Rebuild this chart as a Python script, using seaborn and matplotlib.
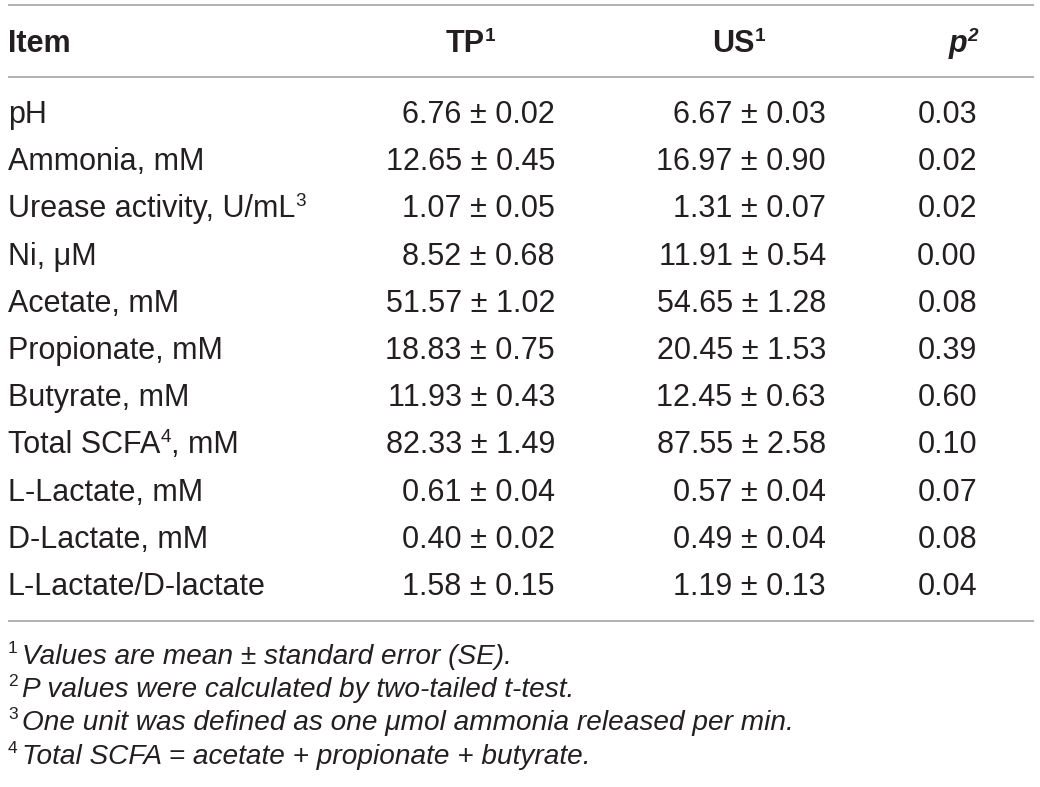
import numpy as np
import pandas as pd
import matplotlib
matplotlib.use('Agg')
import matplotlib.pyplot as plt
import seaborn as sns

# Table values
items = ['pH', 'Ammonia, mM', 'Urease activity, U/mL', 'Ni, \u03bcM', 'Acetate, mM',
         'Propionate, mM', 'Butyrate, mM', 'Total SCFA', 'L-Lactate, mM',
         'D-Lactate, mM', 'L-Lactate/D-lactate']
item_sup = ['', '', '3', '', '', '', '', '4', '', '', '']
item_tail = ['', '', '', '', '', '', '', ', mM', '', '', '']
tp_mean = [6.76, 12.65, 1.07, 8.52, 51.57, 18.83, 11.93, 82.33, 0.61, 0.40, 1.58]
tp_se = [0.02, 0.45, 0.05, 0.68, 1.02, 0.75, 0.43, 1.49, 0.04, 0.02, 0.15]
us_mean = [6.67, 16.97, 1.31, 11.91, 54.65, 20.45, 12.45, 87.55, 0.57, 0.49, 1.19]
us_se = [0.03, 0.90, 0.07, 0.54, 1.28, 1.53, 0.63, 2.58, 0.04, 0.04, 0.13]
p_values = [0.03, 0.02, 0.02, 0.00, 0.08, 0.39, 0.60, 0.10, 0.07, 0.08, 0.04]
footnotes = ['Values are mean \u00b1 standard error (SE).',
             'P values were calculated by two-tailed t-test.',
             'One unit was defined as one \u03bcmol ammonia released per min.',
             'Total SCFA = acetate + propionate + butyrate.']

df = pd.DataFrame({'item': items, 'tp': tp_mean, 'tp_se': tp_se,
                   'us': us_mean, 'us_se': us_se, 'p': p_values})

sns.set_theme(style='white')
plt.rcParams['font.family'] = ['Liberation Sans', 'DejaVu Sans']

ink = '#231f20'
rule = '#9d9d9d'
body = 22

fig = plt.figure(figsize=(10.4, 7.87), dpi=100)
ax = fig.add_axes([0, 0, 1, 1])
ax.set_xlim(0, 1040)
ax.set_ylim(787, 0)
ax.axis('off')
renderer = fig.canvas.get_renderer()


def seg_text(x, y, segments, ha='left', **kw):
    # segments: list of (text, is_sup); laid out left to right, then shifted for alignment
    size = kw.pop('size', body)
    sup_size = kw.pop('sup_size', size * 0.62)
    rise = kw.pop('rise', size * 0.5)
    gap = kw.pop('gap', 0)
    sup_style = kw.pop('sup_style', kw.get('style', 'normal'))
    arts, cur = [], 0.0
    for txt, is_sup in segments:
        if not txt:
            continue
        opts = dict(kw)
        if is_sup:
            opts['style'] = sup_style
        t = ax.text(cur, y - (rise if is_sup else 0), txt, ha='left', va='baseline',
                    fontsize=sup_size if is_sup else size, color=ink, **opts)
        arts.append((t, cur))
        cur += t.get_window_extent(renderer).width + (gap if is_sup else 0)
    shift = {'left': x, 'center': x - cur / 2, 'right': x - cur}[ha]
    for t, off in arts:
        t.set_x(off + shift)


# rules
ax.hlines([5, 77, 621], 8, 1034, color=rule, lw=1.1)

# header
seg_text(8, 52, [('Item', False)], weight='bold')
seg_text(470, 52, [('TP', False), ('1', True)], ha='center', weight='bold')
seg_text(739, 52, [('US', False), ('1', True)], ha='center', weight='bold')
seg_text(978, 52, [('p', False), ('2', True)], ha='right', weight='bold', style='italic')

# body rows
baselines = 123 + 47.2 * np.arange(len(df))
for i, row in df.iterrows():
    yb = baselines[i]
    seg_text(8, yb, [(row['item'], False), (item_sup[i], True), (item_tail[i], False)])
    seg_text(555, yb, [(f"{row['tp']:.2f} \u00b1 {row['tp_se']:.2f}", False)], ha='right')
    seg_text(826, yb, [(f"{row['us']:.2f} \u00b1 {row['us_se']:.2f}", False)], ha='right')
    seg_text(977, yb, [(f"{row['p']:.2f}", False)], ha='right')

# footnotes
for k, note in enumerate(footnotes):
    yb = 664 + 33.2 * k
    seg_text(8, yb, [(str(k + 1), True), (note, False)],
             size=20.2, sup_size=12.5, rise=11, gap=4, style='italic', sup_style='normal')

fig.savefig('out.png', dpi=100)
